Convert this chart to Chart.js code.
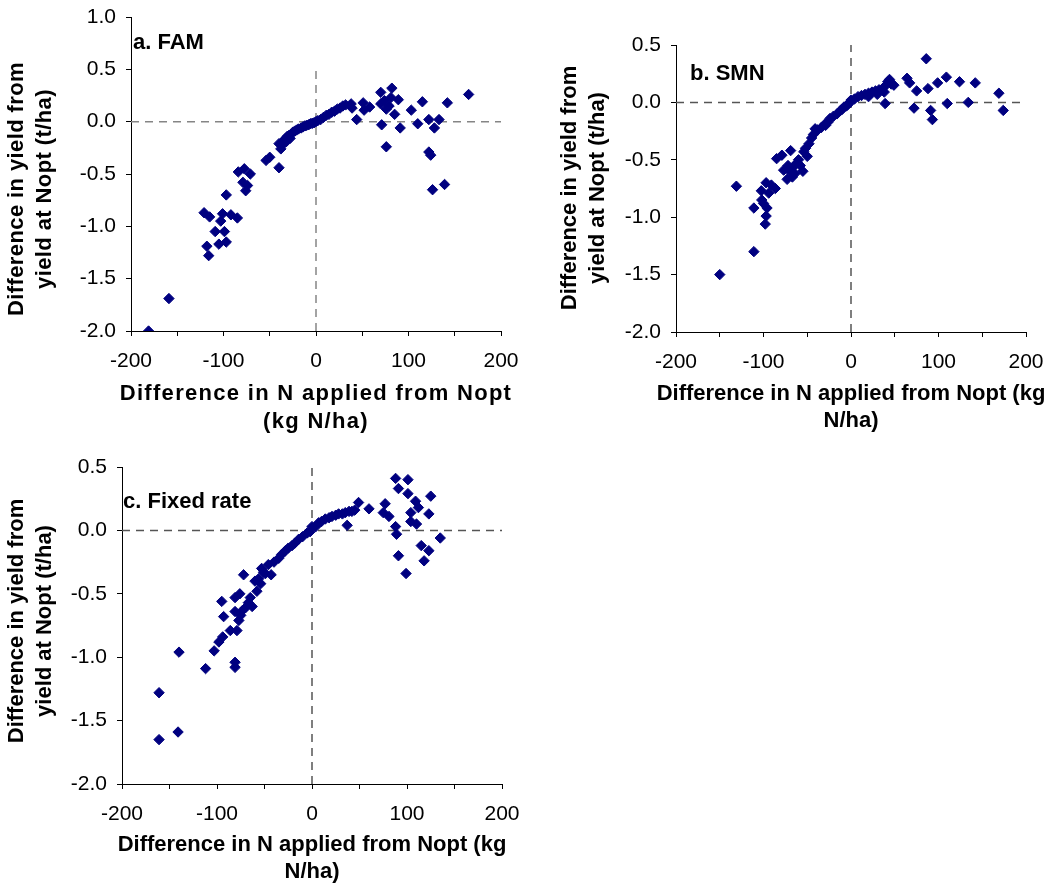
<!DOCTYPE html>
<html>
<head>
<meta charset="utf-8">
<script src="https://cdn.jsdelivr.net/npm/chart.js@4.4.1/dist/chart.umd.min.js"></script>
<style>
body { margin: 0; background: #fff; width: 1053px; height: 884px; position: relative; overflow: hidden; }
.panel { position: absolute; }
</style>
</head>
<body>
<div class="panel" style="left:0;top:0;width:530px;height:440px"><canvas id="chartA"></canvas></div>
<div class="panel" style="left:540px;top:0;width:513px;height:440px"><canvas id="chartB"></canvas></div>
<div class="panel" style="left:0;top:440px;width:530px;height:444px"><canvas id="chartC"></canvas></div>
<script>
// ---- data ----
var famX = [-181, -159, -121, -115, -101, -103, -92, -85, -97, -109, -99, -118, -116, -105, -97,
    -84, -77.5, -71, -79, -74, -76, -54, -50, -40, -40, -38,
    -36, -35, -33, -32, -31, -29, -28, -27, -25, -23, -21, -19, -16, -14, -12, -10, -8, -6, -4, -2, 0,
    2, 5, 8, 11, 14, 17, 20, 23, 26, 29, 32,
    38, 39, 44, 51, 52, 58, 70, 70, 76, 82, 81, 89, 85, 71, 76, 91, 79, 74,
    103, 115, 110, 122, 128, 133, 142, 122, 124, 126, 139, 165];
var famY = [-2.0, -1.69, -0.87, -0.91, -0.88, -0.95, -0.89, -0.92, -0.70, -1.05, -1.05, -1.19, -1.28, -1.17, -1.15,
    -0.48, -0.45, -0.50, -0.58, -0.61, -0.66, -0.37, -0.34, -0.44, -0.21, -0.26,
    -0.22, -0.18, -0.16, -0.19, -0.14, -0.13, -0.16, -0.12, -0.10, -0.09, -0.08, -0.07, -0.06, -0.05, -0.04, -0.035, -0.03, -0.02, -0.015, -0.01, 0.0,
    0.01, 0.02, 0.04, 0.06, 0.07, 0.09, 0.10, 0.12, 0.13, 0.15, 0.16,
    0.17, 0.13, 0.02, 0.18, 0.11, 0.14, 0.28, 0.17, 0.12, 0.32, 0.23, 0.21, 0.07, -0.03, -0.24, -0.06, 0.15, 0.20,
    0.11, 0.19, -0.02, 0.02, -0.06, 0.02, 0.18, -0.29, -0.32, -0.65, -0.60, 0.26];

var smnX = [-150, -111, -131, -111, -98, -97, -96, -102, -102.5, -97, -86.5, -94, -91, -100,
    -85, -79, -69, -77, -73, -67, -66, -60, -55, -54, -50, -72, -62, -58, -64, -70,
    -52, -48, -45, -43, -41, -38, -34, -30, -29, -26, -24, -20, -16, -12, -10, -8, -5, -4, -1,
    0, 4, 8, 12, 16, 20, 20, 24, 28, 30, 32, 36, 38, 40, 42, 44, 46,
    49, 39, 64, 67, 75, 72, 86, 88, 91, 93, 99, 109, 110, 124, 134, 142, 169, 174];
var smnY = [-1.50, -1.30, -0.73, -0.92, -1.06, -0.99, -0.92, -0.85, -0.77, -0.70, -0.75, -0.79, -0.72, -0.88,
    -0.49, -0.46, -0.42, -0.59, -0.67, -0.65, -0.56, -0.50, -0.60, -0.43, -0.47, -0.55, -0.53, -0.55, -0.62, -0.60,
    -0.40, -0.36, -0.31, -0.28, -0.23, -0.24, -0.22, -0.19, -0.20, -0.17, -0.14, -0.12, -0.10, -0.07, -0.06, -0.04, -0.03, -0.02, 0.0,
    0.02, 0.03, 0.05, 0.06, 0.07, 0.08, 0.05, 0.09, 0.10, 0.07, 0.11, 0.12, 0.09, 0.15, 0.18, 0.20, 0.16,
    0.15, -0.01, 0.21, 0.17, 0.10, -0.05, 0.38, 0.12, -0.07, -0.15, 0.17, 0.22, -0.01, 0.18, 0.0, 0.17, 0.08, -0.07];

var fixedX = [-161, -161, -141, -140, -112, -103, -98, -94, -86, -79, -81, -81, -93, -95, -81, -77, -75, -81, -76, -72,
    -70, -63, -65, -58, -60, -54, -53, -49, -43, -46, -35, -28, -21, -14, -5, 4,
    -40, -32, -25, -18, -10, -2, -56, -51, -67, -73,
    0, 7, 10, 14, 18, 21, 25, 28, 32, 35, 39, 42, 45, 37,
    49, 60, 77, 75, 81, 88, 91, 101, 101, 109, 112, 125, 104, 104, 110, 123,
    88, 89, 91, 99, 115, 123, 118, 135];
var fixedY = [-1.65, -1.28, -1.59, -0.96, -1.09, -0.95, -0.88, -0.84, -0.79, -0.79, -1.04, -1.08, -0.68, -0.56, -0.64, -0.71, -0.67, -0.53, -0.50, -0.35,
    -0.61, -0.60, -0.53, -0.48, -0.40, -0.42, -0.30, -0.34, -0.35, -0.27, -0.22, -0.16, -0.12, -0.07, -0.02, 0.03,
    -0.25, -0.19, -0.14, -0.10, -0.05, -0.01, -0.38, -0.33, -0.57, -0.63,
    0.03, 0.06, 0.07, 0.09, 0.10, 0.11, 0.12, 0.13, 0.13, 0.14, 0.15, 0.15, 0.16, 0.04,
    0.22, 0.17, 0.21, 0.14, 0.11, 0.41, 0.33, 0.40, 0.29, 0.23, 0.18, 0.27, 0.14, 0.07, 0.05, 0.13,
    0.03, -0.03, -0.20, -0.34, -0.12, -0.16, -0.24, -0.06];

var xTickLabels = [-200, -100, 0, 100, 200];
var xRange = [-200, 200];
var yRangeA = [-2.0, 1.0];
var yRangeBC = [-2.0, 0.5];
var zeroLineTopA = 0.5;

// ---- helpers ----
Chart.defaults.color = '#000';
Chart.defaults.font.family = '"Liberation Sans", Arial, sans-serif';

var TICK_FONT = { size: 21, family: '"Liberation Sans", Arial, sans-serif' };
var BOLD = 'bold 22px "Liberation Sans", Arial, sans-serif';
var MARKER = '#000080';

var panelTextPlugin = {
    id: 'panelText',
    afterDraw: function(chart, args, opts) {
        var ctx = chart.ctx;
        (opts.items || []).forEach(function(it) {
            ctx.save();
            ctx.font = BOLD;
            ctx.fillStyle = '#000';
            ctx.letterSpacing = it.spacing || '0px';
            ctx.textAlign = it.align || 'center';
            ctx.textBaseline = 'middle';
            ctx.translate(it.x, it.y);
            if (it.rotate) ctx.rotate(-Math.PI / 2);
            ctx.fillText(it.text, 0, 0);
            ctx.restore();
        });
    }
};

function toPoints(xs, ys) {
    return xs.map(function(x, i) { return { x: x, y: ys[i] }; });
}

function makePanel(id, xs, ys, yRange, vTop, dashColor, box, texts) {
    var ctx = document.getElementById(id);
    return new Chart(ctx, {
        type: 'scatter',
        data: {
            datasets: [
                {
                    data: toPoints(xs, ys),
                    pointStyle: 'rectRot',
                    pointRadius: 5.2,
                    pointBorderWidth: 1,
                    backgroundColor: MARKER,
                    borderColor: MARKER
                },
                {
                    type: 'line',
                    data: [{ x: xRange[0], y: 0 }, { x: xRange[1], y: 0 }],
                    borderColor: dashColor, borderWidth: 1.5, borderDash: [8, 6],
                    pointRadius: 0, fill: false
                },
                {
                    type: 'line',
                    data: [{ x: 0, y: yRange[0] }, { x: 0, y: vTop }],
                    borderColor: dashColor, borderWidth: 1.5, borderDash: [8, 6],
                    pointRadius: 0, fill: false
                }
            ]
        },
        options: {
            responsive: true,
            maintainAspectRatio: false,
            animation: false,
            events: [],
            layout: { padding: { top: box.top, right: box.right, left: 0, bottom: 0 } },
            plugins: {
                legend: { display: false },
                tooltip: { enabled: false },
                panelText: { items: texts }
            },
            scales: {
                x: {
                    type: 'linear',
                    min: xRange[0], max: xRange[1],
                    border: { color: '#000', width: 1 },
                    grid: { drawOnChartArea: false, drawTicks: true, tickLength: 5, color: '#000' },
                    ticks: {
                        stepSize: 50, autoSkip: false, maxRotation: 0, padding: 13, font: TICK_FONT,
                        callback: function(v) { return xTickLabels.indexOf(v) >= 0 ? String(v) : ''; }
                    },
                    afterFit: function(s) { s.height = box.bottom; s.paddingLeft = 0; s.paddingRight = 0; }
                },
                y: {
                    type: 'linear',
                    min: yRange[0], max: yRange[1],
                    border: { color: '#000', width: 1 },
                    grid: { drawOnChartArea: false, drawTicks: true, tickLength: 5, color: '#000' },
                    ticks: {
                        stepSize: 0.5, padding: 10, font: TICK_FONT,
                        callback: function(v) { return Number(v).toFixed(1); }
                    },
                    afterFit: function(s) { s.width = box.left; s.paddingTop = 0; s.paddingBottom = 0; }
                }
            }
        },
        plugins: [panelTextPlugin]
    });
}

// panel a: canvas at (0,0) 530x440
makePanel('chartA', famX, famY, yRangeA, zeroLineTopA, '#858585',
    { left: 131, top: 17, right: 29, bottom: 109 },
    [
        { text: 'a. FAM', x: 133, y: 43, align: 'left' },
        { text: 'Difference in yield from', x: 17, y: 189, rotate: true, spacing: '0.4px' },
        { text: 'yield at Nopt (t/ha)', x: 45, y: 189, rotate: true, spacing: '0.4px' },
        { text: 'Difference in N applied from Nopt', x: 316, y: 394, spacing: '1.3px' },
        { text: '(kg N/ha)', x: 316, y: 422, spacing: '1.3px' }
    ]);

// panel b: canvas at (540,0) 513x440
makePanel('chartB', smnX, smnY, yRangeBC, yRangeBC[1], '#555555',
    { left: 136, top: 45, right: 27, bottom: 108 },
    [
        { text: 'b. SMN', x: 150, y: 74, align: 'left' },
        { text: 'Difference in yield from', x: 30, y: 188, rotate: true },
        { text: 'yield at Nopt (t/ha)', x: 58, y: 188, rotate: true },
        { text: 'Difference in N applied from Nopt (kg', x: 311, y: 394 },
        { text: 'N/ha)', x: 311, y: 421 }
    ]);

// panel c: canvas at (0,440) 530x444
makePanel('chartC', fixedX, fixedY, yRangeBC, yRangeBC[1], '#555555',
    { left: 122, top: 27, right: 28, bottom: 100 },
    [
        { text: 'c. Fixed rate', x: 123, y: 62, align: 'left' },
        { text: 'Difference in yield from', x: 17, y: 181, rotate: true },
        { text: 'yield at Nopt (t/ha)', x: 45, y: 181, rotate: true },
        { text: 'Difference in N applied from Nopt (kg', x: 312, y: 405 },
        { text: 'N/ha)', x: 312, y: 432 }
    ]);
</script>
</body>
</html>
